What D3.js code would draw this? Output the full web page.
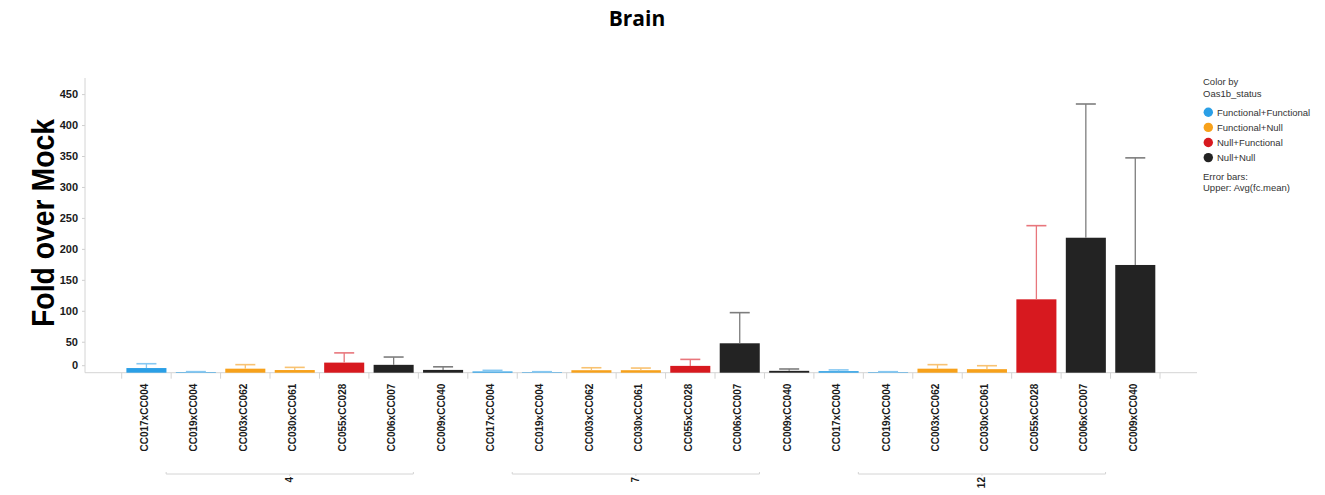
<!DOCTYPE html>
<html>
<head>
<meta charset="utf-8">
<script src="https://cdn.jsdelivr.net/npm/d3@7"></script>
<style>
  html, body { margin: 0; padding: 0; background: #fff; }
  svg { display: block; }
</style>
</head>
<body>
<svg id="chart" width="1325" height="495"></svg>
<script>
// Days post infection, shown as the outer grouping of the x axis
const days = ["4", "7", "12"];
// Crosses, repeated inside every day group
const crosses = ["CC017xCC004", "CC019xCC004", "CC003xCC062", "CC030xCC061", "CC055xCC028", "CC006xCC007", "CC009xCC040"];
// Oas1b status of each cross
const crossStatus = ["Functional+Functional", "Functional+Functional", "Functional+Null", "Functional+Null", "Null+Functional", "Null+Null", "Null+Null"];

// Fold over mock (bar height) per day
const foldDay4  = [7.5, 0.9, 6.5, 4.3, 16.3, 12.7, 4.5];
const foldDay7  = [2.0, 0.8, 4.0, 4.0, 11.0, 47.5, 3.0];
const foldDay12 = [2.5, 0.8, 6.5, 5.7, 118.5, 218, 174];

// Upper end of each error bar
const upperDay4  = [14.5, 1.7, 13, 8.6, 32, 25.3, 9.5];
const upperDay7  = [3.8, 1.6, 8, 7.5, 21.5, 97, 6];
const upperDay12 = [4.5, 1.6, 13, 11.3, 237.5, 434, 347];

// Legend entries and colours
const statusNames = ["Functional+Functional", "Functional+Null", "Null+Functional", "Null+Null"];
const statusColors = ["#2a9fe6", "#f7a11a", "#d7191f", "#232323"];
const statusErrColors = ["#86c8f2", "#f8c271", "#e8767c", "#7d7d7d"];

const yTicks = [0, 50, 100, 150, 200, 250, 300, 350, 400, 450];

const foldByDay = [foldDay4, foldDay7, foldDay12];
const upperByDay = [upperDay4, upperDay7, upperDay12];

const rows = [];
days.forEach((day, di) => {
  crosses.forEach((cross, ci) => {
    rows.push({
      key: day + "|" + cross,
      day, cross,
      status: crossStatus[ci],
      value: foldByDay[di][ci],
      upper: upperByDay[di][ci]
    });
  });
});

const svg = d3.select("#chart");
const FONT = "'Liberation Sans', Arial, sans-serif";

const color = d3.scaleOrdinal().domain(statusNames).range(statusColors);
const errColor = d3.scaleOrdinal().domain(statusNames).range(statusErrColors);

const x = d3.scaleBand()
  .domain(rows.map(d => d.key))
  .range([121.7, 1160])
  .paddingInner(0.19)
  .paddingOuter(0.095);

const y = d3.scaleLinear().domain([0, 476]).range([372.7, 78]);

const axisLeftX = 85;
const axisRightX = 1197;
const baseY = y(0);

// Title
svg.append("text")
  .attr("x", 637).attr("y", 26)
  .attr("text-anchor", "middle")
  .attr("font-family", "'Open Sans', sans-serif")
  .attr("font-weight", "bold")
  .attr("font-size", 21)
  .attr("fill", "#000")
  .text("Brain");

// Y axis title
svg.append("text")
  .attr("transform", "translate(54,223) rotate(-90)")
  .attr("text-anchor", "middle")
  .attr("font-family", FONT)
  .attr("font-weight", "bold")
  .attr("font-size", 31)
  .attr("textLength", 208)
  .attr("lengthAdjust", "spacingAndGlyphs")
  .attr("fill", "#000")
  .text("Fold over Mock");

// Y axis
const yAxis = svg.append("g")
  .attr("transform", `translate(${axisLeftX},0)`)
  .call(d3.axisLeft(y).tickValues(yTicks).tickSize(3).tickPadding(4));
yAxis.select(".domain").remove();
yAxis.selectAll(".tick line").attr("stroke", "#cfcfcf");
yAxis.selectAll(".tick text")
  .attr("font-family", FONT)
  .attr("font-weight", "bold")
  .attr("font-size", 11)
  .attr("fill", "#1a1a1a");
// keep the zero label inside the plot frame
yAxis.selectAll(".tick").filter(d => d === 0)
  .attr("transform", `translate(0,${baseY - 7})`);

svg.append("line")
  .attr("x1", axisLeftX).attr("x2", axisLeftX)
  .attr("y1", 78).attr("y2", baseY)
  .attr("stroke", "#d4d4d4").attr("stroke-width", 1);

// X axis baseline
svg.append("line")
  .attr("x1", axisLeftX).attr("x2", axisRightX)
  .attr("y1", baseY).attr("y2", baseY)
  .attr("stroke", "#d4d4d4").attr("stroke-width", 1);

// Category boundary ticks
const step = x.step();
const boundaries = rows.map(d => x(d.key) - step * x.paddingInner() / 2);
boundaries.push(boundaries[boundaries.length - 1] + step);
svg.append("g").selectAll("line")
  .data(boundaries)
  .join("line")
  .attr("x1", d => d).attr("x2", d => d)
  .attr("y1", baseY).attr("y2", baseY + 6)
  .attr("stroke", "#d4d4d4");

// Category labels
const xAxis = svg.append("g")
  .attr("transform", `translate(0,${baseY})`)
  .call(d3.axisBottom(x).tickSize(0).tickFormat(k => k.split("|")[1]));
xAxis.select(".domain").remove();
xAxis.selectAll(".tick text")
  .attr("font-family", FONT)
  .attr("font-weight", "bold")
  .attr("font-size", 10)
  .attr("fill", "#1a1a1a")
  .attr("text-anchor", "end")
  .attr("transform", "translate(-2,11) rotate(-90)")
  .attr("x", 0).attr("y", 0).attr("dy", "0.35em");

// Day group brackets
const groupG = svg.append("g");
days.forEach((day, di) => {
  const first = x(day + "|" + crosses[0]);
  const last = x(day + "|" + crosses[crosses.length - 1]) + x.bandwidth();
  const center = (first + last) / 2 - 5;
  const half = step * 2.5;
  const by = 474;
  groupG.append("path")
    .attr("d", `M${center - half},${by - 2}V${by}H${center + half}V${by - 2}`)
    .attr("fill", "none")
    .attr("stroke", "#d4d4d4");
  groupG.append("line")
    .attr("x1", center).attr("x2", center)
    .attr("y1", by).attr("y2", by + 2)
    .attr("stroke", "#d4d4d4");
  groupG.append("text")
    .attr("transform", `translate(${center},${by + 3}) rotate(-90)`)
    .attr("text-anchor", "end")
    .attr("dy", "0.35em")
    .attr("font-family", FONT)
    .attr("font-weight", "bold")
    .attr("font-size", 10)
    .attr("fill", "#1a1a1a")
    .text(day);
});

// Bars
svg.append("g").selectAll("rect")
  .data(rows)
  .join("rect")
  .attr("x", d => x(d.key))
  .attr("width", x.bandwidth())
  .attr("y", d => y(d.value))
  .attr("height", d => baseY - y(d.value))
  .attr("fill", d => color(d.status));

// Error bars (upper only)
const err = svg.append("g").selectAll("g")
  .data(rows)
  .join("g")
  .attr("stroke", d => errColor(d.status))
  .attr("stroke-width", 1.3);
err.append("line")
  .attr("x1", d => x(d.key) + x.bandwidth() / 2)
  .attr("x2", d => x(d.key) + x.bandwidth() / 2)
  .attr("y1", d => y(d.value))
  .attr("y2", d => y(d.upper));
err.append("line")
  .attr("x1", d => x(d.key) + x.bandwidth() / 2 - 10)
  .attr("x2", d => x(d.key) + x.bandwidth() / 2 + 10)
  .attr("y1", d => y(d.upper))
  .attr("y2", d => y(d.upper))
  .attr("stroke-width", 1.6);

// Legend
const legend = svg.append("g").attr("font-family", FONT).attr("font-size", 9.5).attr("fill", "#333");
legend.append("text").attr("x", 1203).attr("y", 85).text("Color by");
legend.append("text").attr("x", 1203).attr("y", 97).text("Oas1b_status");
statusNames.forEach((name, i) => {
  const cy = 112.3 + i * 15.1;
  legend.append("circle")
    .attr("cx", 1208.3).attr("cy", cy).attr("r", 4.7)
    .attr("fill", statusColors[i]);
  legend.append("text")
    .attr("x", 1217).attr("y", cy + 3.4)
    .text(name);
});
legend.append("text").attr("x", 1203).attr("y", 179.5).text("Error bars:");
legend.append("text").attr("x", 1203).attr("y", 191).text("Upper: Avg(fc.mean)");
</script>
</body>
</html>
